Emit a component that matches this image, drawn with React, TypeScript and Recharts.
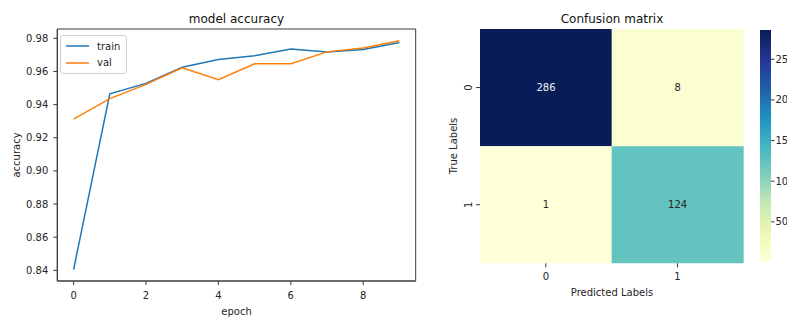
import {
  Bar,
  BarChart,
  Cell,
  Label,
  LabelList,
  Legend,
  Line,
  LineChart,
  ReferenceArea,
  XAxis,
  YAxis,
} from "recharts";

// accuracy history
const epochs = [0, 1, 2, 3, 4, 5, 6, 7, 8, 9];
const trainAcc = [0.8405, 0.9465, 0.9528, 0.9625, 0.9672, 0.9694, 0.9736, 0.9718, 0.9732, 0.9775];
const valAcc = [0.9312, 0.9436, 0.9522, 0.9622, 0.955, 0.9646, 0.9646, 0.9718, 0.9742, 0.9785];
const accTicks = [0.84, 0.86, 0.88, 0.9, 0.92, 0.94, 0.96, 0.98];
const epochTicks = [0, 2, 4, 6, 8];

// confusion matrix (rows = true, cols = predicted)
const predLabels = ["0", "1"];
const trueLabels = ["0", "1"];
const confusion = [
  [286, 8],
  [1, 124],
];
const colorbarTicks = [50, 100, 150, 200, 250];

const FONT = "'DejaVu Sans', Verdana, sans-serif";
const INK = "#262626";
const AXIS = "#3a3a3a";

const X_DOM: [number, number] = [-0.45, 9.45];
const Y_DOM: [number, number] = [0.8336, 0.9856];

const YLGNBU = ["#ffffd9", "#edf8b1", "#c7e9b4", "#7fcdbb", "#41b6c4", "#1d91c0", "#225ea8", "#253494", "#081d58"];

const rgb = (h: string) => [1, 3, 5].map((i) => parseInt(h.slice(i, i + 2), 16));
function cmap(v: number, lo: number, hi: number) {
  const t = Math.max(0, Math.min(1, (v - lo) / (hi - lo))) * (YLGNBU.length - 1);
  const i = Math.min(Math.floor(t), YLGNBU.length - 2);
  const f = t - i;
  const a = rgb(YLGNBU[i]);
  const b = rgb(YLGNBU[i + 1]);
  const c = a.map((x, k) => Math.round(x + (b[k] - x) * f));
  return `rgb(${c[0]},${c[1]},${c[2]})`;
}

const flat = confusion.flat();
const cMin = Math.min(...flat);
const cMax = Math.max(...flat);

const accData = epochs.map((e, i) => ({ epoch: e, train: trainAcc[i], val: valAcc[i] }));
const cmData = predLabels.map((p, j) => ({
  pred: p,
  r0: 1,
  r1: 1,
  v0: confusion[0][j],
  v1: confusion[1][j],
}));
const cbData = [{ k: "cb", span: [cMin, cMax] }];

const tickStyle = { fill: INK, fontSize: 10, fontFamily: FONT };

const AccLegend = ({ payload }: any) => (
  <div
    style={{
      border: "1px solid #d0d0d0",
      borderRadius: 3,
      background: "rgba(255,255,255,0.8)",
      padding: "2px 0",
      fontFamily: FONT,
      fontSize: 10,
      color: INK,
    }}
  >
    {(payload ?? []).map((p: any) => (
      <div key={p.value} style={{ display: "flex", alignItems: "center", height: 16.5 }}>
        <svg width={36} height={10} style={{ display: "block" }}>
          <line x1={5} x2={28} y1={5} y2={5} stroke={p.color} strokeWidth={1.5} />
        </svg>
        <span>{p.value}</span>
      </div>
    ))}
  </div>
);

const RotTick = ({ x, y, payload }: any) => (
  <text
    transform={`translate(${x},${y}) rotate(-90)`}
    textAnchor="middle"
    style={tickStyle}
    fill={INK}
  >
    {trueLabels[Math.floor(payload.value)]}
  </text>
);

const cellLabel = ({ x, y, width, height, value }: any) => (
  <text
    x={x + width / 2}
    y={y + height / 2}
    textAnchor="middle"
    dominantBaseline="central"
    fontSize={10}
    fontFamily={FONT}
    fill={value > (cMin + cMax) / 2 ? "#f2f2f2" : INK}
  >
    {value}
  </text>
);

const abs = { position: "absolute" as const, left: 0, top: 0 };

export default function App() {
  return (
    <div style={{ position: "absolute", left: 0, top: 0, width: 787, height: 320, background: "#fff" }}>
      <div style={abs}>
        <LineChart
          width={787}
          height={320}
          data={accData}
          margin={{ top: 29, right: 371.3, bottom: 9, left: 7.3 }}
        >
          <XAxis
            dataKey="epoch"
            type="number"
            domain={X_DOM}
            ticks={epochTicks}
            allowDataOverflow
            height={30}
            tickSize={4}
            tickMargin={7}
            stroke={AXIS}
            tick={tickStyle}
          >
            <Label
              content={() => (
                <>
                  <text x={236.5} y={314.5} textAnchor="middle" fontSize={10} fontFamily={FONT} fill={INK}>
                    epoch
                  </text>
                  <text x={236.5} y={23} textAnchor="middle" fontSize={12} fontFamily={FONT} fill="#111">
                    model accuracy
                  </text>
                </>
              )}
            />
          </XAxis>
          <YAxis
            type="number"
            domain={Y_DOM}
            ticks={accTicks}
            allowDataOverflow
            width={50}
            tickSize={4}
            tickMargin={5}
            stroke={AXIS}
            tick={tickStyle}
            tickFormatter={(v: number) => v.toFixed(2)}
          >
            <Label
              content={() => (
                <text
                  transform="translate(19.5,155) rotate(-90)"
                  textAnchor="middle"
                  fontSize={10}
                  fontFamily={FONT}
                  fill={INK}
                >
                  accuracy
                </text>
              )}
            />
          </YAxis>
          <ReferenceArea
            x1={X_DOM[0]}
            x2={X_DOM[1]}
            y1={Y_DOM[0]}
            y2={Y_DOM[1]}
            fill="none"
            fillOpacity={0}
            stroke={AXIS}
            strokeWidth={1}
          />
          <Legend
            layout="horizontal"
            verticalAlign="middle"
            align="center"
            wrapperStyle={{ left: 60, top: 35, width: 67, height: 38 }}
            content={AccLegend}
          />
          <Line
            dataKey="train"
            name="train"
            stroke="#1f77b4"
            strokeWidth={1.5}
            dot={false}
            isAnimationActive={false}
          />
          <Line
            dataKey="val"
            name="val"
            stroke="#ff7f0e"
            strokeWidth={1.5}
            dot={false}
            isAnimationActive={false}
          />
        </LineChart>
      </div>

      <div style={abs}>
        <BarChart
          width={787}
          height={320}
          data={cmData}
          barCategoryGap={0}
          margin={{ top: 29, right: 43.7, bottom: 26.7, left: 450 }}
        >
          <XAxis
            dataKey="pred"
            height={30}
            axisLine={false}
            tickSize={4}
            tickMargin={6}
            stroke={AXIS}
            tick={tickStyle}
          >
            <Label
              content={() => (
                <text x={612} y={295.5} textAnchor="middle" fontSize={10} fontFamily={FONT} fill={INK}>
                  Predicted Labels
                </text>
              )}
            />
          </XAxis>
          <YAxis
            type="number"
            domain={[0, 2]}
            reversed
            ticks={[0.5, 1.5]}
            width={30}
            axisLine={false}
            tickSize={4}
            tickMargin={4}
            stroke={AXIS}
            tick={RotTick}
          >
            <Label
              content={() => (
                <>
                  <text
                    transform="translate(457,146) rotate(-90)"
                    textAnchor="middle"
                    fontSize={10}
                    fontFamily={FONT}
                    fill={INK}
                  >
                    True Labels
                  </text>
                  <text x={612} y={23} textAnchor="middle" fontSize={12} fontFamily={FONT} fill="#111">
                    Confusion matrix
                  </text>
                </>
              )}
            />
          </YAxis>
          {trueLabels.map((t, i) => (
            <Bar key={t} dataKey={`r${i}`} stackId="cm" isAnimationActive={false}>
              {cmData.map((d, j) => (
                <Cell key={j} fill={cmap(confusion[i][j], cMin, cMax)} />
              ))}
              <LabelList dataKey={`v${i}`} content={cellLabel} />
            </Bar>
          ))}
        </BarChart>
      </div>

      <div style={abs}>
        <BarChart
          width={787}
          height={320}
          data={cbData}
          barCategoryGap={0}
          margin={{ top: 30, right: 0, bottom: 58.3, left: 760 }}
        >
          <defs>
            <linearGradient id="cbGrad" x1="0" y1="1" x2="0" y2="0">
              {YLGNBU.map((c, i) => (
                <stop key={c} offset={i / (YLGNBU.length - 1)} stopColor={c} />
              ))}
            </linearGradient>
          </defs>
          <XAxis dataKey="k" hide />
          <YAxis
            orientation="right"
            type="number"
            domain={[cMin, cMax]}
            ticks={colorbarTicks}
            width={16}
            axisLine={false}
            tickSize={3.5}
            tickMargin={1}
            stroke={AXIS}
            tick={{ ...tickStyle, textAnchor: "start" }}
          />
          <Bar dataKey="span" fill="url(#cbGrad)" isAnimationActive={false} />
        </BarChart>
      </div>
    </div>
  );
}
